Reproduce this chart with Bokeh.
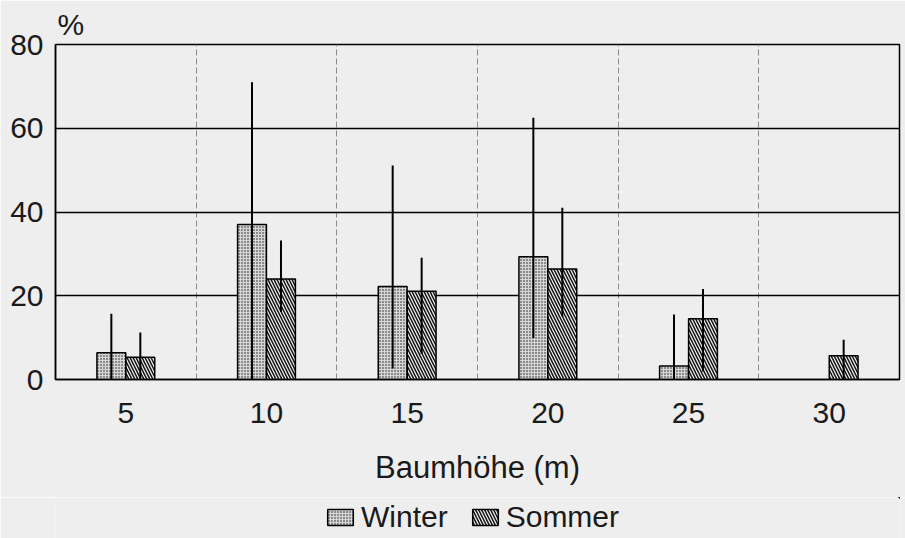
import numpy as np
from bokeh.plotting import figure
from bokeh.layouts import column
from bokeh.models import (ColumnDataSource, FixedTicker, Legend, LegendItem, Range1d, Title)
from bokeh.embed import file_html
from bokeh.resources import INLINE

# ---- data ----
categories = ["5", "10", "15", "20", "25", "30"]
winter = [6.4, 37.0, 22.2, 29.3, 3.2, np.nan]
winter_lo = [0.0, 0.0, 2.6, 9.9, 0.0, np.nan]
winter_hi = [15.7, 71.0, 51.1, 62.5, 15.5, np.nan]
sommer = [5.3, 24.0, 21.1, 26.4, 14.5, 5.7]
sommer_lo = [0.0, 16.1, 6.1, 15.1, 1.9, 0.0]
sommer_hi = [11.2, 33.2, 29.1, 41.0, 21.6, 9.5]
y_ticks = [0, 20, 40, 60, 80]
series_names = ["Winter", "Sommer"]

FONT = "Liberation Sans"
BG = "#efeeee"
TXT = "#1a1a1a"
n = len(categories)
xpos = np.arange(1, n + 1)
off = 0.103
bw = 0.205

WINTER_STYLE = dict(fill_color="#d6d6d6", line_color="black", line_width=1.5,
                    hatch_pattern=".", hatch_color="#1a1a1a", hatch_scale=3, hatch_weight=2.2)
SOMMER_STYLE = dict(fill_color="#f4f4f4", line_color="black", line_width=1.5,
                    hatch_pattern="\\", hatch_color="#111111", hatch_scale=6, hatch_weight=1.5)

src_w = ColumnDataSource(dict(x=xpos - off, top=winter, lo=winter_lo, hi=winter_hi))
src_s = ColumnDataSource(dict(x=xpos + off, top=sommer, lo=sommer_lo, hi=sommer_hi))

p = figure(width=905, height=497, output_backend="svg", toolbar_location=None,
           x_range=Range1d(0.5, n + 0.5), y_range=Range1d(0, 80),
           background_fill_color=BG, border_fill_color=BG,
           min_border_left=55, min_border_right=6, min_border_top=44, min_border_bottom=118)

p.outline_line_color = "black"
p.outline_line_width = 1.5

# grids
p.ygrid.ticker = FixedTicker(ticks=y_ticks)
p.ygrid.grid_line_color = "black"
p.ygrid.grid_line_width = 1.5
p.xgrid.ticker = FixedTicker(ticks=[i + 0.5 for i in range(1, n)])
p.xgrid.grid_line_color = "#8a8a8a"
p.xgrid.grid_line_width = 1
p.xgrid.grid_line_dash = "6 3"

# axes
p.yaxis.ticker = FixedTicker(ticks=y_ticks)
p.xaxis.ticker = FixedTicker(ticks=list(xpos))
p.xaxis.major_label_overrides = {int(x): c for x, c in zip(xpos, categories)}
for ax in (p.xaxis[0], p.yaxis[0]):
    ax.major_tick_in = 0
    ax.major_tick_out = 0
    ax.minor_tick_in = 0
    ax.minor_tick_out = 0
    ax.axis_line_color = "black"
    ax.axis_line_width = 1.5
    ax.major_label_text_font = FONT
    ax.major_label_text_font_size = "30px"
    ax.major_label_text_color = TXT
p.yaxis.major_label_standoff = 12
p.xaxis.major_label_standoff = 23
p.xaxis.axis_label = "Baumhöhe (m)"
p.xaxis.axis_label_text_font = FONT
p.xaxis.axis_label_text_font_size = "31px"
p.xaxis.axis_label_text_font_style = "normal"
p.xaxis.axis_label_text_color = TXT
p.xaxis.axis_label_standoff = 24

# bars
p.vbar(x="x", top="top", bottom=0, width=bw, source=src_w, **WINTER_STYLE)
p.vbar(x="x", top="top", bottom=0, width=bw, source=src_s, **SOMMER_STYLE)

# error lines
p.segment(x0="x", x1="x", y0="lo", y1="hi", source=src_w, line_color="black", line_width=2)
p.segment(x0="x", x1="x", y0="lo", y1="hi", source=src_s, line_color="black", line_width=2)

# % label
t = Title(text="%", align="left", offset=2, text_font=FONT, text_font_size="30px",
          text_font_style="normal", text_color=TXT, standoff=8)
p.add_layout(t, "above")

# legend strip (its bars lie far outside its visible ranges; only the legend shows)
lg = figure(width=905, height=41, output_backend="svg", toolbar_location=None,
            x_range=Range1d(-1001, -1000), y_range=Range1d(-1001, -1000),
            x_axis_location=None, y_axis_location=None,
            background_fill_color=BG, border_fill_color=BG,
            min_border_left=0, min_border_right=0, min_border_top=0, min_border_bottom=0)
lg.outline_line_color = None
lg.grid.visible = False
lw = lg.vbar(x="x", top="top", bottom=0, width=bw, source=src_w, **WINTER_STYLE)
ls = lg.vbar(x="x", top="top", bottom=0, width=bw, source=src_s, **SOMMER_STYLE)
legend = Legend(items=[LegendItem(label=series_names[0], renderers=[lw], index=0),
                       LegendItem(label=series_names[1], renderers=[ls], index=0)],
                orientation="horizontal", location=(269, 4),
                label_text_font=FONT, label_text_font_size="30px", label_text_color=TXT,
                glyph_width=32, glyph_height=20, label_standoff=5, spacing=21,
                border_line_color=None, background_fill_alpha=0,
                margin=0, padding=0)
lg.add_layout(legend, "center")

open("out.html", "w").write(file_html(column(p, lg, spacing=0), INLINE))
